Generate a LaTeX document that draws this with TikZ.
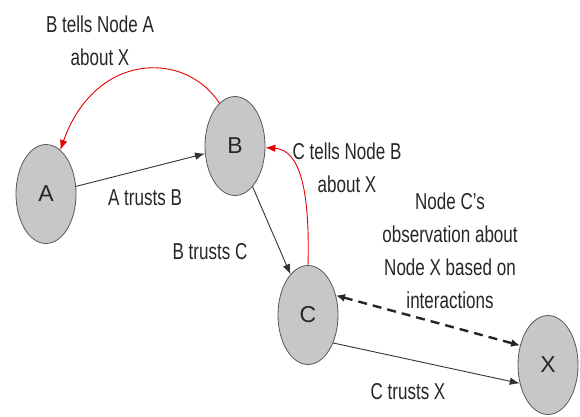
\documentclass[tikz,border=0pt]{standalone}
\usepackage{fontspec}
\setmainfont{Liberation Sans}
\usetikzlibrary{shapes.geometric,arrows.meta}

\tikzset{
  peer/.style={ellipse, draw=black!65, line width=0.8pt, fill=black!22,
    minimum width=60pt, minimum height=99pt, inner sep=0pt,
    font=\fontsize{23}{26}\selectfont, text=black!85},
  lbl/.style={align=center, font=\fontsize{23}{33}\selectfont,
    text=black!85, xscale=0.74, inner sep=0pt},
  trust/.style={draw=black!80, line width=0.9pt,
    -{Latex[length=10pt,width=7.5pt]}},
  gossip/.style={draw=red!90!black, line width=0.9pt,
    -{Latex[length=10pt,width=7.5pt]}},
  observe/.style={draw=black!85, line width=2.4pt, dash pattern=on 9pt off 6pt,
    {Latex[length=9pt,width=8pt]}-{Latex[length=9pt,width=8pt]}}
}

\begin{document}
\begin{tikzpicture}[x=1pt, y=-1pt]
  \useasboundingbox (0,0) rectangle (580,416);

  % peers
  \node[peer] (A) at (46,194) {A};
  \node[peer] (B) at (235,146) {B};
  \node[peer] (C) at (308,315) {C};
  \node[peer] (X) at (548,365) {X};

  % trust relations
  \draw[trust] (A) -- (B);
  \draw[trust] (B) -- (C);
  \draw[trust] (C.-48) -- (X.213);

  % recommendations passed back along the chain
  \draw[gossip] (B.110) .. controls (185,50) and (95,52) .. (A.72);
  \draw[gossip] (C.90) .. controls (310,190) and (300,150) .. (B.-3);

  % direct observation between C and X
  \draw[observe] (C.35) -- (X.145);

  % labels
  \node[lbl] (lBA) at (100,41) {B tells Node A\\about X};
  \node[lbl] (lAB) at (145,198) {A trusts B};
  \node[lbl] (lBC) at (210,252) {B trusts C};
  \node[lbl] (lCB) at (347,168) {C tells Node B\\about X};
  \node[lbl] (lCX) at (450,251) {Node C's\\observation about\\Node X based on\\interactions};
  \node[lbl] (lTX) at (408,392) {C trusts X};
\end{tikzpicture}
\end{document}
